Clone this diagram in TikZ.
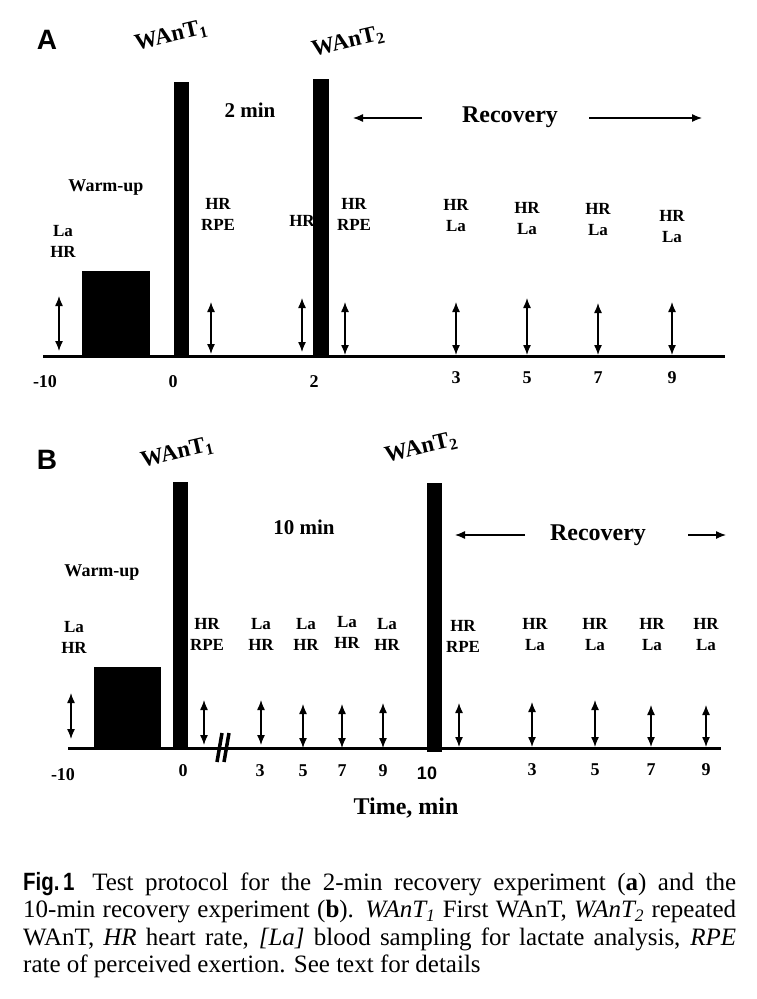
\documentclass[tikz,border=0pt]{standalone}
\usepackage{fontspec}
\setmainfont{Liberation Serif}
\setsansfont{Liberation Sans}
\usetikzlibrary{arrows.meta}

\newcommand{\wsub}[1]{\raisebox{-0.3ex}{\fontsize{16}{16}\selectfont #1}}

\begin{document}
\begin{tikzpicture}[x=1pt,y=-1pt,>={Latex[length=10pt,width=8pt]},
		every node/.style={inner sep=0pt},
		wantbar/.style={fill=black},
		axis/.style={line width=3pt},
		samp/.style={<->,line width=1.3pt},
		recarrow/.style={->,line width=1.2pt},
		lab/.style={font=\fontsize{17}{21}\selectfont\bfseries,align=center},
		ticklab/.style={font=\fontsize{18}{20}\selectfont\bfseries},
		panel/.style={font=\fontsize{28}{30}\selectfont\sffamily\bfseries},
		wantlab/.style={font=\fontsize{23}{25}\selectfont\bfseries,rotate=13},
		bigtext/.style={font=\fontsize{24}{26}\selectfont\bfseries}]
		
		\useasboundingbox (0,0) rectangle (756,999);
		
		% panel A
		\node[panel] (pA) at (47,40) {A};
		\node[wantlab] (wA1) at (171,36) {WAnT\wsub{1}};
		\node[wantlab] (wA2) at (348,42) {WAnT\wsub{2}};
		\fill[wantbar] (82,271) rectangle (150,355);
		\fill[wantbar] (174,82) rectangle (189,358);
		\fill[wantbar] (313,79) rectangle (329,356);
		\draw[axis] (43,356) -- (725,356);
		
		\node[font=\fontsize{21}{23}\selectfont\bfseries] (tA) at (250,110) {2 min};
		\node[bigtext] (recA) at (510,117) {Recovery};
		\coordinate (ra1) at (422,118); \coordinate (ra2) at (353,118);
		\coordinate (ra3) at (589,118); \coordinate (ra4) at (702,118);
		\draw[recarrow] (ra1) -- (ra2);
		\draw[recarrow] (ra3) -- (ra4);
		
		\node[font=\fontsize{18}{20}\selectfont\bfseries] (wuA) at (106,188) {Warm-up};
		\node[lab] (lA1) at (63,241) {La\\HR};
		\node[lab] (lA2) at (218,214) {HR\\RPE};
		\node[lab] (lA3) at (302,221) {HR};
		\node[lab] (lA4) at (354,214) {HR\\RPE};
		\node[lab] (lA5) at (456,216) {HR\\La};
		\node[lab] (lA6) at (527,219) {HR\\La};
		\node[lab] (lA7) at (598,220) {HR\\La};
		\node[lab] (lA8) at (672,227) {HR\\La};
		
		\coordinate (sA1) at (59,296); \coordinate (eA1) at (59,351);
		\coordinate (sA2) at (211,302); \coordinate (eA2) at (211,354);
		\coordinate (sA3) at (302,298); \coordinate (eA3) at (302,352);
		\coordinate (sA4) at (345,302); \coordinate (eA4) at (345,355);
		\coordinate (sA5) at (456,302); \coordinate (eA5) at (456,355);
		\coordinate (sA6) at (527,298); \coordinate (eA6) at (527,355);
		\coordinate (sA7) at (598,303); \coordinate (eA7) at (598,355);
		\coordinate (sA8) at (672,302); \coordinate (eA8) at (672,355);
		\draw[samp] (sA1) -- (eA1);
		\draw[samp] (sA2) -- (eA2);
		\draw[samp] (sA3) -- (eA3);
		\draw[samp] (sA4) -- (eA4);
		\draw[samp] (sA5) -- (eA5);
		\draw[samp] (sA6) -- (eA6);
		\draw[samp] (sA7) -- (eA7);
		\draw[samp] (sA8) -- (eA8);
		
		\node[ticklab] (kA1) at (45,382) {-10};
		\node[ticklab] (kA2) at (173,382) {0};
		\node[ticklab] (kA3) at (314,382) {2};
		\node[ticklab] (kA4) at (456,378) {3};
		\node[ticklab] (kA5) at (527,378) {5};
		\node[ticklab] (kA6) at (598,378) {7};
		\node[ticklab] (kA7) at (672,378) {9};
		
		% panel B
		\node[panel] (pB) at (47,460) {B};
		\node[wantlab] (wB1) at (177,453) {WAnT\wsub{1}};
		\node[wantlab] (wB2) at (421,448) {WAnT\wsub{2}};
		\fill[wantbar] (94,667) rectangle (161,750);
		\fill[wantbar] (173,482) rectangle (188,750);
		\fill[wantbar] (427,483) rectangle (442,752);
		\draw[axis] (68,748) -- (721,748);
		\draw[line width=3.5pt] (217,762) -- (222,733);
		\draw[line width=3.5pt] (224,762) -- (229,733);
		
		\node[font=\fontsize{21}{23}\selectfont\bfseries] (tB) at (304,527) {10 min};
		\node[bigtext] (recB) at (598,535) {Recovery};
		\coordinate (rb1) at (525,535); \coordinate (rb2) at (455,535);
		\coordinate (rb3) at (688,535); \coordinate (rb4) at (726,535);
		\draw[recarrow] (rb1) -- (rb2);
		\draw[recarrow] (rb3) -- (rb4);
		
		\node[font=\fontsize{18}{20}\selectfont\bfseries] (wuB) at (102,573) {Warm-up};
		\node[lab] (lB1) at (74,637) {La\\HR};
		\node[lab] (lB2) at (207,634) {HR\\RPE};
		\node[lab] (lB3) at (261,634) {La\\HR};
		\node[lab] (lB4) at (306,634) {La\\HR};
		\node[lab] (lB5) at (347,632) {La\\HR};
		\node[lab] (lB6) at (387,634) {La\\HR};
		\node[lab] (lB7) at (463,636) {HR\\RPE};
		\node[lab] (lB8) at (535,635) {HR\\La};
		\node[lab] (lB9) at (595,635) {HR\\La};
		\node[lab] (lB10) at (652,635) {HR\\La};
		\node[lab] (lB11) at (706,635) {HR\\La};
		
		\coordinate (sB1) at (71,693); \coordinate (eB1) at (71,739);
		\coordinate (sB2) at (204,700); \coordinate (eB2) at (204,745);
		\coordinate (sB3) at (261,700); \coordinate (eB3) at (261,745);
		\coordinate (sB4) at (303,704); \coordinate (eB4) at (303,748);
		\coordinate (sB5) at (342,704); \coordinate (eB5) at (342,748);
		\coordinate (sB6) at (383,703); \coordinate (eB6) at (383,748);
		\coordinate (sB7) at (459,703); \coordinate (eB7) at (459,747);
		\coordinate (sB8) at (532,702); \coordinate (eB8) at (532,747);
		\coordinate (sB9) at (595,700); \coordinate (eB9) at (595,747);
		\coordinate (sB10) at (651,705); \coordinate (eB10) at (651,747);
		\coordinate (sB11) at (706,705); \coordinate (eB11) at (706,747);
		\draw[samp] (sB1) -- (eB1);
		\draw[samp] (sB2) -- (eB2);
		\draw[samp] (sB3) -- (eB3);
		\draw[samp] (sB4) -- (eB4);
		\draw[samp] (sB5) -- (eB5);
		\draw[samp] (sB6) -- (eB6);
		\draw[samp] (sB7) -- (eB7);
		\draw[samp] (sB8) -- (eB8);
		\draw[samp] (sB9) -- (eB9);
		\draw[samp] (sB10) -- (eB10);
		\draw[samp] (sB11) -- (eB11);
		
		\node[ticklab] (kB1) at (63,775) {-10};
		\node[ticklab] (kB2) at (183,771) {0};
		\node[ticklab] (kB3) at (260,771) {3};
		\node[ticklab] (kB4) at (303,771) {5};
		\node[ticklab] (kB5) at (342,771) {7};
		\node[ticklab] (kB6) at (383,771) {9};
		\node[ticklab,font=\fontsize{18}{20}\selectfont\sffamily\bfseries] (kB7) at (427,773) {10};
		\node[ticklab] (kB8) at (532,770) {3};
		\node[ticklab] (kB9) at (595,770) {5};
		\node[ticklab] (kB10) at (651,770) {7};
		\node[ticklab] (kB11) at (706,770) {9};
		\node[bigtext] (time) at (406,808) {Time, min};
		
		% caption
		\node[anchor=north west,text width=713pt,align=justify,
			font=\fontsize{25}{27.5}\selectfont] (cap) at (23,872)
			{\scalebox{0.82}[1]{\sffamily\bfseries Fig.\,1}\hspace{0.25em} Test protocol for the 2-min recovery experiment (\textbf{a}) and the\linebreak
			10-min recovery experiment (\textbf{b}). \textit{WAnT\textsubscript{1}} First WAnT, \textit{WAnT\textsubscript{2}} repeated\linebreak
			WAnT, \textit{HR} heart rate, \textit{[La]} blood sampling for lactate analysis, \textit{RPE}\linebreak
			rate of perceived exertion. See text for details};
		\end{tikzpicture}
\end{document}
